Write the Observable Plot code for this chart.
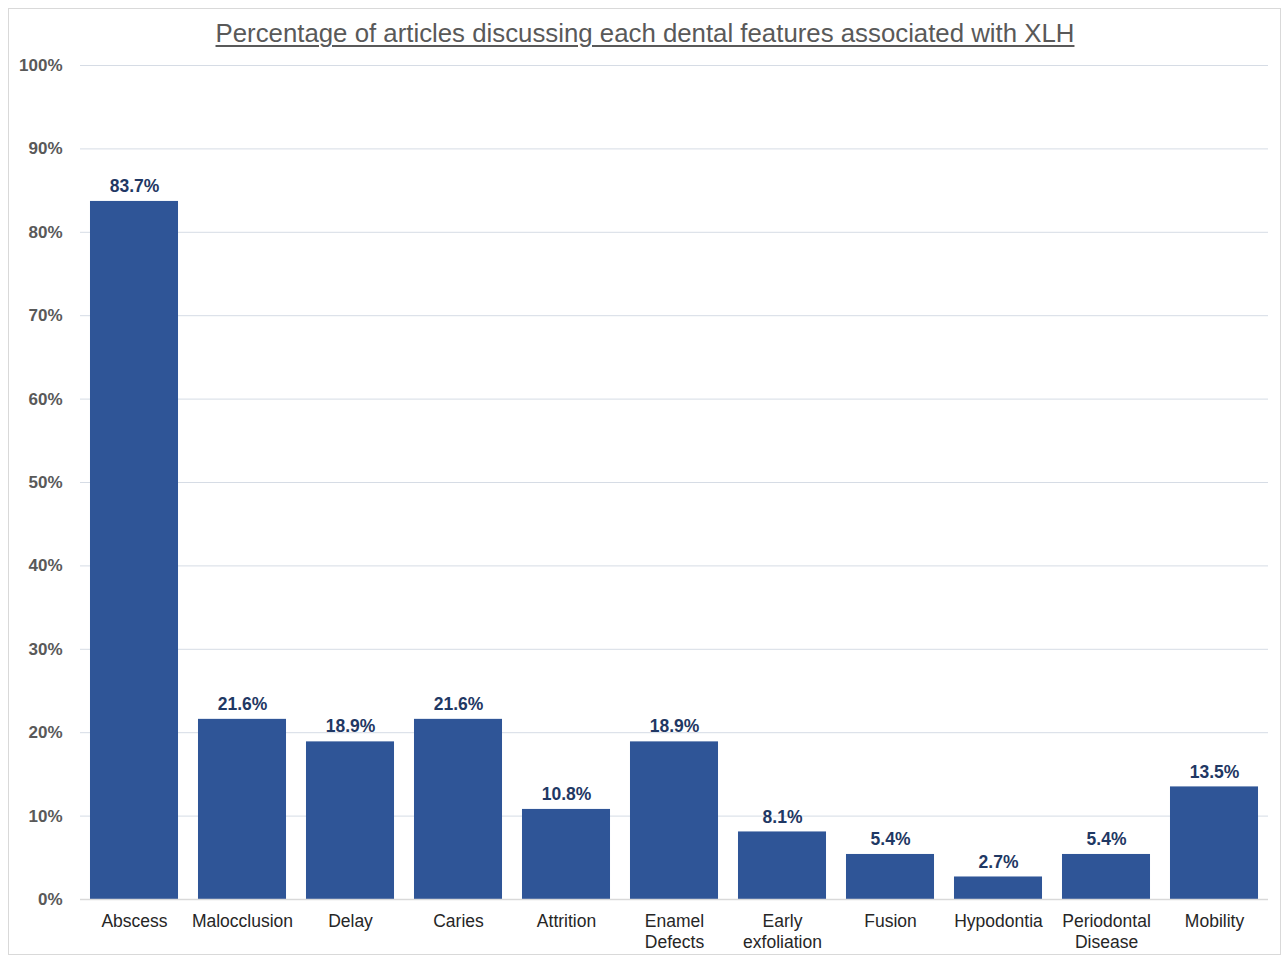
<!DOCTYPE html>
<html>
<head>
<meta charset="utf-8">
<script src="https://cdn.jsdelivr.net/npm/d3@7"></script>
<script src="https://cdn.jsdelivr.net/npm/@observablehq/plot@0.6"></script>
<style>
  html, body { margin: 0; padding: 0; background: #fff; }
  #wrap { position: relative; width: 1282px; height: 957px; font-family: "Liberation Sans", Arial, sans-serif; }
  #frame { position: absolute; left: 8px; top: 8px; width: 1273px; height: 947px; border: 1px solid #d9d9d9; box-sizing: border-box; pointer-events: none; }
  #title { height: 50px; box-sizing: border-box; padding-top: 18px; text-align: center; font-size: 25.8px; color: #595959; text-decoration: underline; text-decoration-thickness: 2px; text-underline-offset: 3px; line-height: 30px; padding-left: 8px; }
  #chart svg { display: block; }
</style>
</head>
<body>
<div id="wrap">
  <div id="frame"></div>
  <div id="title">Percentage of articles discussing each dental features associated with XLH</div>
  <div id="chart"></div>
</div>
<script>
const categories = ["Abscess", "Malocclusion", "Delay", "Caries", "Attrition", "Enamel\nDefects", "Early\nexfoliation", "Fusion", "Hypodontia", "Periodontal\nDisease", "Mobility"];
const percentages = [83.7, 21.6, 18.9, 21.6, 10.8, 18.9, 8.1, 5.4, 2.7, 5.4, 13.5];
const yTicks = [0, 10, 20, 30, 40, 50, 60, 70, 80, 90, 100];

const data = categories.map((c, i) => ({category: c, value: percentages[i]}));

const chart = Plot.plot({
  width: 1282,
  height: 907,
  marginTop: 15,
  marginBottom: 58,
  marginLeft: 80,
  marginRight: 14,
  style: { fontFamily: "Liberation Sans, Arial, sans-serif", background: "transparent" },
  x: { domain: categories, paddingInner: 0.185, paddingOuter: 0.0925, round: false, label: null },
  y: { domain: [0, 100], label: null },
  marks: [
    Plot.gridY(yTicks, { stroke: "#d6dce5", strokeOpacity: 1, strokeWidth: 1 }),
    Plot.barY(data, { x: "category", y: "value", fill: "#2F5597" }),
    Plot.ruleY([0], { stroke: "#d9d9d9", strokeWidth: 1.5 }),
    Plot.text(data, { x: "category", y: "value", text: d => d.value.toFixed(1) + "%", dy: -15, fill: "#1F3864", fontSize: 17.5, fontWeight: "bold" }),
    Plot.axisY(yTicks, { tickSize: 0, tickPadding: 18, tickFormat: d => d + "%", fontSize: 17, fontWeight: "bold", fill: "#595959", label: null }),
    Plot.axisX({ tickSize: 0, tickPadding: 13, fontSize: 17.5, lineHeight: 1.2, fill: "#262626", lineAnchor: "top", label: null })
  ]
});
document.getElementById("chart").appendChild(chart);
</script>
</body>
</html>
